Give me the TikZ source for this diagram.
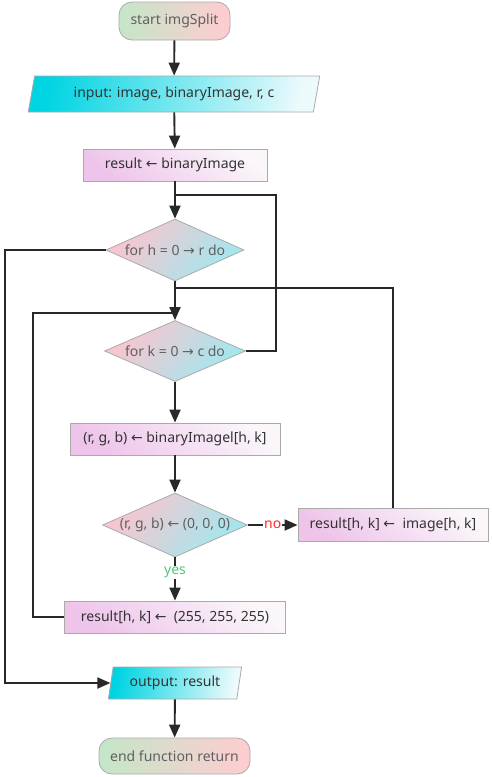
\documentclass[tikz,border=0pt]{standalone}
\usepackage{fontspec}
\setmainfont{Noto Sans}
\newfontfamily\symf{DejaVu Sans}
\usetikzlibrary{shapes.geometric,arrows.meta}
\definecolor{ln}{RGB}{40,40,40}
\definecolor{bd}{RGB}{170,170,170}
\definecolor{tgreen}{RGB}{196,230,200}
\definecolor{tpink}{RGB}{255,204,208}
\definecolor{cyanA}{RGB}{0,212,226}
\definecolor{cyanB}{RGB}{236,250,252}
\definecolor{pviol}{RGB}{238,196,234}
\definecolor{pwhite}{RGB}{250,246,250}
\definecolor{dpink}{RGB}{252,196,206}
\definecolor{dcyan}{RGB}{160,232,238}
\definecolor{txtA}{RGB}{51,51,51}
\definecolor{txtB}{RGB}{96,96,96}
\definecolor{nored}{RGB}{255,40,40}
\definecolor{yesgreen}{RGB}{80,200,120}
\newcommand{\myla}{{\symf ←}}
\newcommand{\myra}{{\symf →}}
\begin{document}
\begin{tikzpicture}[x=1pt,y=-1pt,
  every node/.style={font=\fontsize{14}{17}\selectfont, text=txtA},
  term/.style={draw=bd, line width=0.8pt, rounded corners=13pt, left color=tgreen, right color=tpink, text=txtB, inner sep=0pt},
  io/.style={draw=bd, line width=0.8pt, trapezium, trapezium stretches=true, left color=cyanA, right color=cyanB, shading angle=80, inner sep=0pt},
  pbox/.style={draw=bd, line width=0.8pt, top color=pwhite, bottom color=pviol, shading angle=-40, inner sep=0pt},
  dia/.style={draw=bd, line width=0.8pt, diamond, top color=dpink, bottom color=dcyan, shading angle=50, inner sep=0pt},
  dtext/.style={text=txtB},
  conn/.style={draw=ln, line width=1.9pt},
  arr/.style={conn, -{Triangle[length=13pt,width=11pt]}},
  lab/.style={fill=white, inner sep=1pt}
]
\useasboundingbox (0,0) rectangle (491,777);

\node[term, minimum width=111pt, minimum height=38pt] (st) at (174.5,21) {start imgSplit};
\node[io, trapezium left angle=72, trapezium right angle=108, minimum width=292pt, minimum height=36pt] (in) at (174,94) {input: image, binaryImage, r, c};
\node[pbox, minimum width=184pt, minimum height=32pt] (r1) at (175,165) {result \myla\ binaryImage};
\node[dia, minimum width=138pt, minimum height=62pt, label={[dtext]center:for h = 0 \myra\ r do}] (dh) at (175,250) {};
\node[dia, minimum width=141pt, minimum height=61pt, label={[dtext]center:for k = 0 \myra\ c do}] (dk) at (175,351) {};
\node[pbox, minimum width=210pt, minimum height=32pt] (rb) at (175,439) {(r, g, b) \myla\ binaryImagel[h, k]};
\node[dia, minimum width=145pt, minimum height=64pt, label={[dtext]center:(r, g, b) \myla\ (0, 0, 0)}] (d0) at (175,525) {};
\node[pbox, minimum width=190pt, minimum height=33pt] (rimg) at (393,524.5) {result[h, k] \myla\ \ image[h, k]};
\node[pbox, minimum width=221pt, minimum height=32pt] (r255) at (175,617) {result[h, k] \myla\ \ (255, 255, 255)};
\node[io, trapezium left angle=76, trapezium right angle=104, minimum width=134pt, minimum height=32pt] (out) at (175,683) {output: result};
\node[term, minimum width=151pt, minimum height=36pt] (en) at (174.5,756) {end function return};

\coordinate (j1) at (175,195);
\coordinate (c1) at (276,195);
\coordinate (j2) at (175,288);
\coordinate (j3) at (175,313);
\coordinate (c3) at (33,313);
\coordinate (c4) at (5,250);

\draw[arr] (st) -- (in);
\draw[arr] (in) -- (r1);
\draw[arr] (r1) -- (dh);
\draw[arr] (dh) -- (dk);
\draw[arr] (dk) -- (rb);
\draw[arr] (rb) -- (d0);
\draw[arr] (d0.east) -- node[lab, text=nored]{no} (d0.east -| rimg.west);
\draw[arr] (d0) -- node[lab, text=yesgreen, pos=0.35]{yes} (r255);
\draw[arr] (out) -- (en);
\draw[conn] (dk.east) -| (c1) -- (j1);
\draw[conn] (rimg.north) |- (j2);
\draw[conn] (r255.west) -| (c3) -- (j3);
\draw[arr] (dh.west) -- (c4) |- (out.west);
\end{tikzpicture}
\end{document}
